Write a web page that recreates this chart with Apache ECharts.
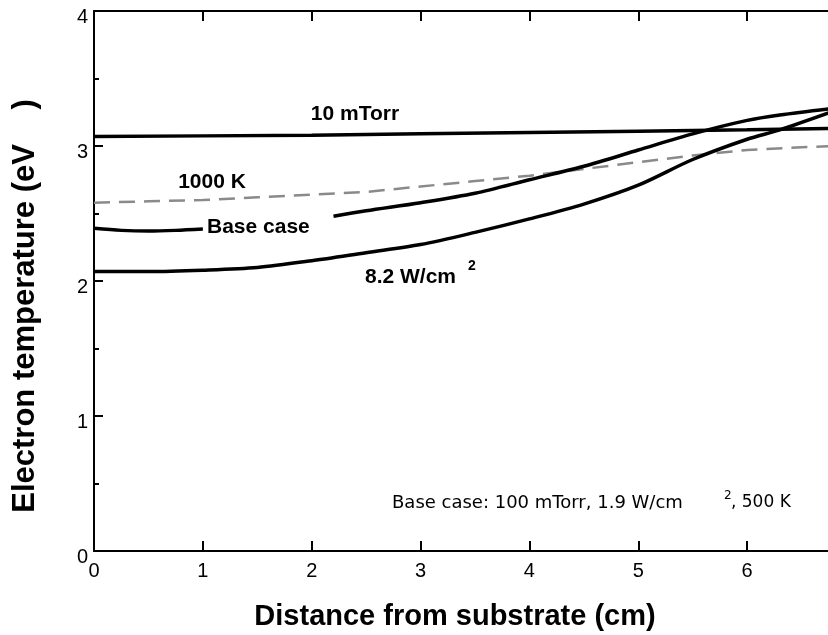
<!DOCTYPE html>
<html>
<head>
<meta charset="utf-8">
<script src="https://cdn.jsdelivr.net/npm/echarts@6/dist/echarts.min.js"></script>
<style>
  html, body { margin: 0; padding: 0; background: #fff; }
  #chart { width: 828px; height: 635px; }
</style>
</head>
<body>
<div id="chart"></div>
<script>
// distance from substrate (cm)
const xTorr = [0, 1, 2, 3, 4, 5, 6, 6.8]
const torr10 = [3.07, 3.075, 3.08, 3.09, 3.10, 3.11, 3.12, 3.13]

const xK = [0, 0.5, 1, 1.5, 2, 2.5, 3, 3.5, 4, 4.5, 5, 5.5, 6, 6.5, 6.8]
const k1000 = [2.58, 2.59, 2.60, 2.62, 2.64, 2.66, 2.70, 2.74, 2.78, 2.83, 2.88, 2.93, 2.97, 2.99, 3.00]

// base case is broken where its label sits
const xBase = [0, 0.25, 0.5, 0.75, 1.0, 1.6, 2.2, 2.5, 3, 3.5, 4, 4.5, 5, 5.5, 6, 6.3, 6.8]
const baseCase = [2.39, 2.375, 2.37, 2.375, 2.385, null, 2.48, 2.52, 2.58, 2.65, 2.75, 2.85, 2.97, 3.09, 3.19, 3.23, 3.28]

const xW = [0, 0.5, 1, 1.5, 2, 2.5, 3, 3.5, 4, 4.5, 5, 5.5, 6, 6.3, 6.8]
const w82 = [2.07, 2.07, 2.08, 2.10, 2.15, 2.21, 2.27, 2.36, 2.46, 2.57, 2.71, 2.90, 3.05, 3.12, 3.26]

const pairs = (xs, ys) => xs.map((x, i) => [x, ys[i]])

const chart = echarts.init(document.getElementById('chart'))

const solid = { color: '#000', width: 3.5 }
const font = 'Liberation Sans, Arial, sans-serif'
const boldLabel = 'bold 21px Liberation Sans, Arial, sans-serif'
const noteFont = '18px DejaVu Sans, sans-serif'

chart.setOption({
  animation: false,
  grid: { left: 94, right: -28, top: 11, bottom: 84, outerBoundsMode: 'none', containLabel: false },
  xAxis: [
    {
      type: 'value', min: 0, max: 7, interval: 1,
      axisLine: { lineStyle: { color: '#000', width: 2 } },
      axisTick: { inside: true, length: 10, lineStyle: { color: '#000', width: 2 } },
      axisLabel: { color: '#000', fontSize: 20, fontFamily: font, margin: 10 },
      splitLine: { show: false },
    },
    {
      type: 'value', min: 0, max: 7, interval: 1, position: 'top',
      axisLine: { lineStyle: { color: '#000', width: 2 } },
      axisTick: { inside: true, length: 10, lineStyle: { color: '#000', width: 2 } },
      axisLabel: { show: false },
      splitLine: { show: false },
    },
  ],
  yAxis: {
    type: 'value', min: 0, max: 4, interval: 1,
    axisLine: { show: true, lineStyle: { color: '#000', width: 2 } },
    axisTick: { inside: true, length: 9, lineStyle: { color: '#000', width: 2 } },
    minorTick: { show: true, splitNumber: 2, length: 5, lineStyle: { color: '#000', width: 2 } },
    axisLabel: { color: '#000', fontSize: 20, fontFamily: font, margin: 6, verticalAlign: 'top', padding: [-4, 0, 0, 0] },
    splitLine: { show: false },
  },
  series: [
    { name: '10 mTorr', type: 'line', data: pairs(xTorr, torr10), showSymbol: false, lineStyle: solid },
    {
      name: '1000 K', type: 'line', data: pairs(xK, k1000), showSymbol: false,
      lineStyle: { color: '#8a8a8a', width: 2.5, type: [16, 9] },
    },
    { name: 'Base case', type: 'line', data: pairs(xBase, baseCase), showSymbol: false, smooth: 0.3, connectNulls: false, lineStyle: solid },
    { name: '8.2 W/cm2', type: 'line', data: pairs(xW, w82), showSymbol: false, smooth: 0.3, lineStyle: solid },
  ],
  graphic: [
    {
      type: 'text', x: 25, y: 306, rotation: Math.PI / 2,
      style: {
        text: 'Electron temperature (eV    )', fill: '#000',
        font: 'bold 31px Liberation Sans, Arial, sans-serif',
        textAlign: 'center', textVerticalAlign: 'middle',
      },
    },
    {
      type: 'text', x: 455, y: 617,
      style: {
        text: 'Distance from substrate (cm)', fill: '#000',
        font: 'bold 29px Liberation Sans, Arial, sans-serif',
        textAlign: 'center', textVerticalAlign: 'middle',
      },
    },
    {
      type: 'text', x: 355, y: 114,
      style: { text: '10 mTorr', fill: '#000', font: boldLabel, textAlign: 'center', textVerticalAlign: 'middle' },
    },
    {
      type: 'text', x: 212, y: 182,
      style: { text: '1000 K', fill: '#000', font: boldLabel, textAlign: 'center', textVerticalAlign: 'middle' },
    },
    {
      type: 'text', x: 207, y: 227,
      style: { text: 'Base case', fill: '#000', font: boldLabel, textAlign: 'left', textVerticalAlign: 'middle' },
    },
    {
      type: 'text', x: 365, y: 277,
      style: { text: '8.2 W/cm', fill: '#000', font: boldLabel, textAlign: 'left', textVerticalAlign: 'middle' },
    },
    {
      type: 'text', x: 468, y: 266,
      style: { text: '2', fill: '#000', font: 'bold 14px Liberation Sans, Arial, sans-serif', textAlign: 'left', textVerticalAlign: 'middle' },
    },
    {
      type: 'text', x: 392, y: 503,
      style: { text: 'Base case: 100 mTorr, 1.9 W/cm', fill: '#000', font: noteFont, textAlign: 'left', textVerticalAlign: 'middle' },
    },
    {
      type: 'text', x: 724, y: 496,
      style: { text: '2', fill: '#000', font: '12px DejaVu Sans, sans-serif', textAlign: 'left', textVerticalAlign: 'middle' },
    },
    {
      type: 'text', x: 731, y: 503,
      style: { text: ', 500 K', fill: '#000', font: '17px DejaVu Sans, sans-serif', textAlign: 'left', textVerticalAlign: 'middle' },
    },
  ],
})
</script>
</body>
</html>
